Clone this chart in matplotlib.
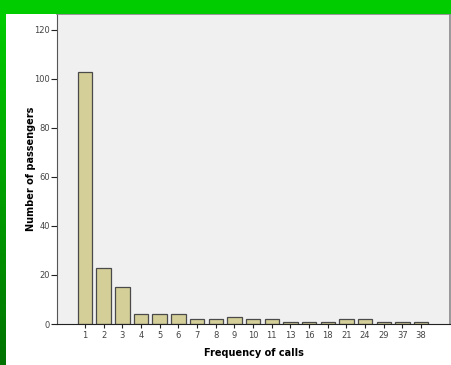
import matplotlib.pyplot as plt
from matplotlib.patches import Rectangle
import numpy as np

calls = ["1", "2", "3", "4", "5", "6", "7", "8", "9", "10",
         "11", "13", "16", "18", "21", "24", "29", "37", "38"]
passengers = [103, 23, 15, 4, 4, 4, 2, 2, 3, 2, 2, 1, 1, 1, 2, 2, 1, 1, 1]

W, H = 451, 365
fig = plt.figure(figsize=(W / 100, H / 100), dpi=100)
fig.patch.set_facecolor("white")

# green frame bits from the slide behind the chart
fig.patches.append(Rectangle((0, 1 - 14 / H), 1, 14 / H, transform=fig.transFigure,
                             facecolor="#00cc00", edgecolor="none", zorder=0))
grad = np.linspace(0, 1, 100).reshape(-1, 1)
gax = fig.add_axes([0, 0, 6 / W, 1 - 14 / H])
gax.imshow(np.dstack([np.zeros_like(grad), 0.8 - 0.35 * grad, np.zeros_like(grad)]),
           aspect="auto", extent=[0, 1, 0, 1])
gax.axis("off")

# plot area: x 57..450, y 14..324 (pixels from top)
ax = fig.add_axes([57 / W, 41 / H, (450 - 57) / W, (324 - 14) / H])
ax.set_facecolor("#f0f0f0")

x = np.arange(len(calls))
ax.bar(x, passengers, width=0.77, color="#d4cf98", edgecolor="#4a4a4a", linewidth=0.9, zorder=2)

ax.set_xlim(-1.5, len(calls) + 0.55)
ax.set_ylim(0, 126.5)
ax.set_yticks([0, 20, 40, 60, 80, 100, 120])
ax.set_xticks(x)
ax.set_xticklabels(calls)

for s in ["top", "right"]:
    ax.spines[s].set_color("#888888")
    ax.spines[s].set_linewidth(1.2)
ax.spines["left"].set_color("#555555")
ax.spines["bottom"].set_color("#222222")

ax.tick_params(axis="y", direction="out", length=4, width=0.8, colors="#222222",
               labelsize=6, labelcolor="#444444", pad=1)
ax.tick_params(axis="x", direction="out", length=3, width=0.8, colors="#222222",
               labelsize=6, labelcolor="#444444", pad=2)

ax.set_ylabel("Number of passengers", fontsize=7, fontweight="bold", labelpad=-1)
ax.set_xlabel("Frequency of calls", fontsize=7, fontweight="bold", labelpad=6)

fig.savefig("out.png", dpi=100)
